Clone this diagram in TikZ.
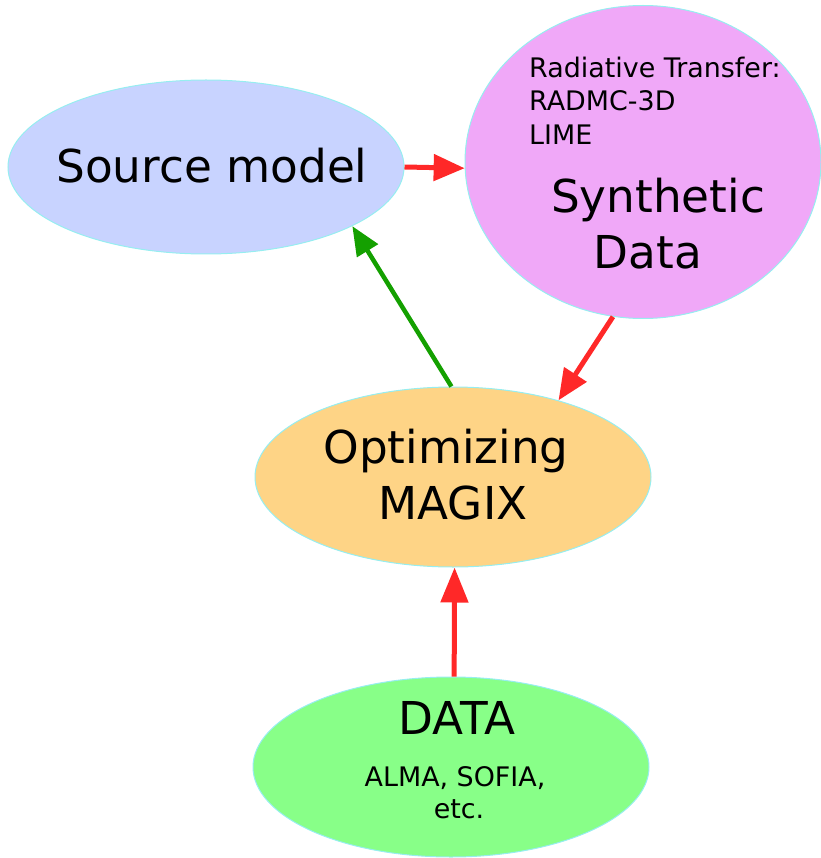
\documentclass[tikz,border=0pt]{standalone}
\usepackage{fontspec}
\setmainfont{DejaVu Sans}
\usetikzlibrary{shapes.geometric,arrows.meta}
\definecolor{srcfill}{RGB}{200,211,255}
\definecolor{synfill}{RGB}{240,168,248}
\definecolor{optfill}{RGB}{254,212,134}
\definecolor{datfill}{RGB}{136,255,136}
\definecolor{rim}{RGB}{150,238,240}
\definecolor{redarrow}{RGB}{255,40,40}
\definecolor{greenarrow}{RGB}{20,160,0}
\tikzset{
  blob/.style={ellipse, draw=rim, line width=1pt, inner sep=0pt},
  bigtext/.style={font=\fontsize{45.3}{56}\selectfont, anchor=base, inner sep=0pt},
  smalltext/.style={font=\fontsize{26.9}{33}\selectfont, anchor=base, inner sep=0pt},
  redarr/.style={draw=redarrow, line width=5pt, -{Triangle[length=31pt,width=26pt]}},
  greenarr/.style={draw=greenarrow, line width=4.5pt, -{Triangle[length=29pt,width=24pt]}},
}
\begin{document}
\begin{tikzpicture}[x=1pt,y=-1pt]
\useasboundingbox (0,0) rectangle (820,858);
% ellipses
\node[blob, fill=srcfill, minimum width=396pt, minimum height=174pt] (src) at (206,167) {};
\node[blob, fill=synfill, minimum width=356pt, minimum height=313pt] (syn) at (643,162) {};
\node[blob, fill=optfill, minimum width=396pt, minimum height=180pt] (opt) at (453,477) {};
\node[blob, fill=datfill, minimum width=396pt, minimum height=180pt] (dat) at (451,767) {};
% texts
\node[bigtext] (tsrc) at (212,183) {Source model};
\node[smalltext, anchor=base west] (trt1) at (529,78) {Radiative Transfer:};
\node[smalltext, anchor=base west] (trt2) at (529,111) {RADMC-3D};
\node[smalltext, anchor=base west] (trt3) at (529,145) {LIME};
\node[bigtext] (tsyn1) at (658,213) {Synthetic};
\node[bigtext] (tsyn2) at (648,269) {Data};
\node[bigtext] (topt1) at (446,463) {Optimizing};
\node[bigtext] (topt2) at (453,519) {MAGIX};
\node[bigtext] (tdat1) at (457,734) {DATA};
\node[smalltext] (tdat2) at (455,786) {ALMA, SOFIA,};
\node[smalltext] (tdat3) at (459,818) {etc.};
% connectors
\draw[redarr] (src.0) -- (syn.-178);
\draw[redarr] (syn.-101) -- (opt.36);
\draw[greenarr] (opt.91) -- (src.-22.5);
\draw[draw=redarrow, line width=5pt, -{Triangle[length=35pt,width=27pt]}] (dat.88) -- (opt.-89);
\end{tikzpicture}
\end{document}
